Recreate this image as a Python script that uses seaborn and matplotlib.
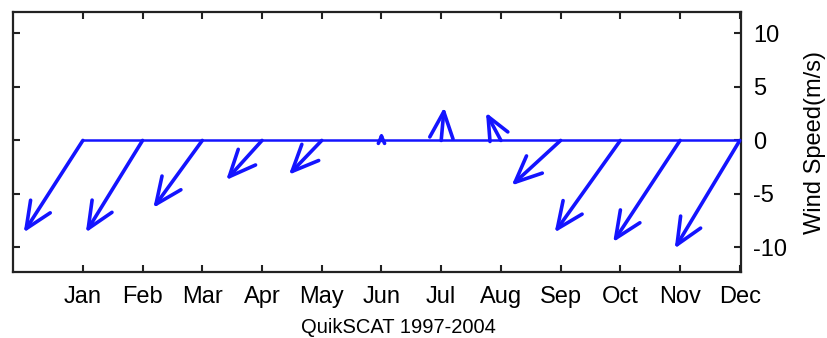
import numpy as np
import pandas as pd
import matplotlib
matplotlib.use("Agg")
import matplotlib.pyplot as plt
import seaborn as sns

# dati (componenti u in unita' di mese, v in m/s)
months = ["Jan", "Feb", "Mar", "Apr", "May", "Jun",
          "Jul", "Aug", "Sep", "Oct", "Nov", "Dec"]
month_pos = [1, 2, 3, 4, 5, 6, 7, 8, 9, 10, 11, 12]
u_comp = [-0.99, -0.95, -0.82, -0.60, -0.55, 0.0,
          0.05, -0.25, -0.82, -1.10, -1.12, -1.09]
v_comp = [-8.6, -8.6, -6.3, -3.7, -3.2, 0.8,
          3.1, 2.6, -4.2, -8.6, -9.5, -10.1]
y_ticks = [-10, -5, 0, 5, 10]
y_ticklabels = ["-10", "-5", "0", "5", "10"]

sns.set_style("white")
plt.rcParams['font.family'] = ['Liberation Sans', 'DejaVu Sans']
plt.rcParams['axes.unicode_minus'] = False
plt.rcParams['text.color'] = 'black'
plt.rcParams['axes.labelcolor'] = 'black'
plt.rcParams['xtick.color'] = 'black'
plt.rcParams['ytick.color'] = 'black'

blue = "#1414ff"

fig = plt.figure(figsize=(8.27, 3.38), dpi=100)
ax = fig.add_axes([0.0157, 0.195, 0.8803, 0.7695])

df = pd.DataFrame({"month": month_pos, "zero": [0] * len(month_pos)})
sns.lineplot(data=df, x="month", y="zero", ax=ax, color=blue, linewidth=1.8)

# frecce stile feather
for x, u, v in zip(month_pos, u_comp, v_comp):
    scale = 20 * min(1.0, abs(v) / 3.0)
    ax.annotate("", xy=(x + u, v), xytext=(x, 0),
                xycoords="data", textcoords="data",
                arrowprops=dict(arrowstyle="->,head_length=0.95,head_width=0.42",
                                color=blue, lw=2.6, shrinkA=0, shrinkB=0,
                                mutation_scale=scale))

ax.set_xlim(-0.17, 12.02)
ax.set_ylim(-12.3, 12.0)
ax.set_xticks(month_pos)
ax.set_xticklabels(months)
ax.set_yticks(y_ticks)
ax.set_yticklabels(y_ticklabels)

ax.tick_params(axis="both", direction="in", length=5, width=1.5, color="#222222",
               labelcolor="black",
               top=True, bottom=True, left=True, right=True,
               labelleft=False, labelright=True, labelsize=17)
ax.tick_params(axis="x", pad=10)
ax.tick_params(axis="y", pad=9)

for s in ax.spines.values():
    s.set_color("#222222")
    s.set_linewidth(1.6)

ax.set_xlabel("QuikSCAT 1997-2004", fontsize=14.5)
ax.xaxis.set_label_coords(0.53, -0.175)
ax.yaxis.set_label_position("right")
ax.set_ylabel("Wind Speed(m/s)", fontsize=17, labelpad=12)

fig.savefig("out.png", dpi=100)
